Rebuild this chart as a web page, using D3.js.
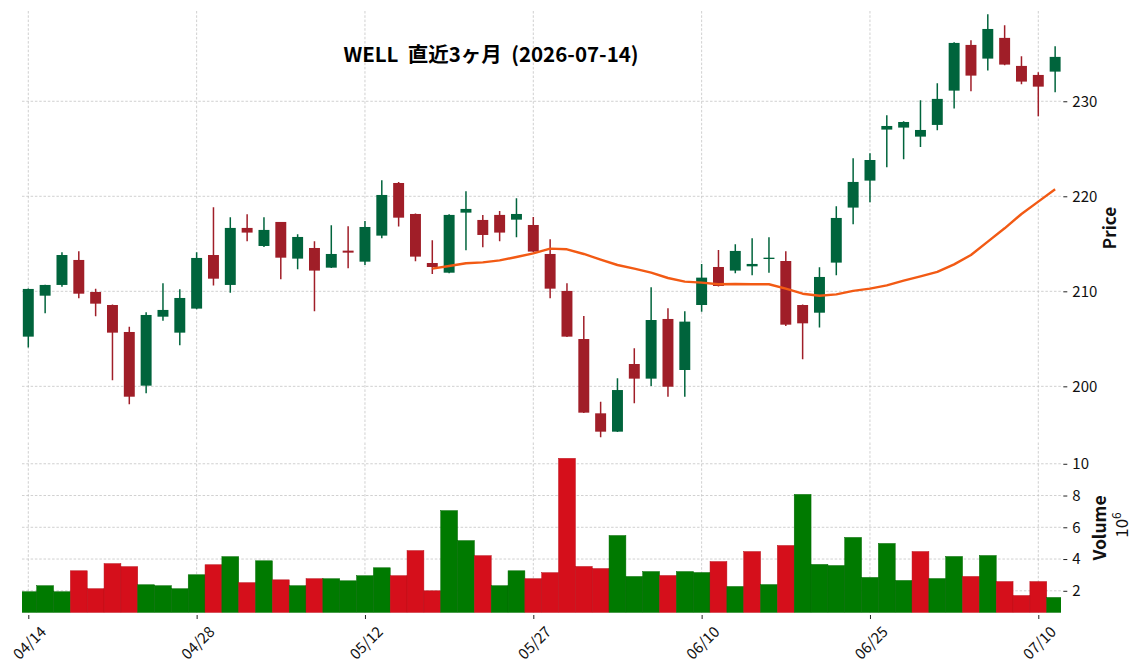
<!DOCTYPE html>
<html>
<head>
<meta charset="utf-8">
<script src="https://cdn.jsdelivr.net/npm/d3@7"></script>
<style>
  html, body { margin: 0; padding: 0; background: #fff; }
  svg { display: block; font-family: "Noto Sans CJK JP", "Noto Sans", sans-serif; }
</style>
</head>
<body>
<svg id="chart" width="1144" height="670"></svg>
<script>
const dates = ["04/14","04/15","04/16","04/17","04/20","04/21","04/22","04/23","04/24","04/27","04/28","04/29","04/30","05/01","05/04","05/05","05/06","05/07","05/08","05/11","05/12","05/13","05/14","05/15","05/18","05/19","05/20","05/21","05/22","05/26","05/27","05/28","05/29","06/01","06/02","06/03","06/04","06/05","06/08","06/09","06/10","06/11","06/12","06/15","06/16","06/17","06/18","06/22","06/23","06/24","06/25","06/26","06/29","06/30","07/01","07/02","07/06","07/07","07/08","07/09","07/10","07/13"];

const opens = [205.23,209.54,210.67,213.30,209.93,208.56,205.72,200.07,207.33,205.65,208.18,213.82,210.67,216.67,214.77,217.30,213.44,214.56,212.49,214.28,213.12,215.86,221.40,218.14,212.98,211.96,218.28,217.51,218.04,217.54,216.98,213.93,210.04,204.98,197.16,195.23,202.35,200.81,207.09,201.72,208.56,212.56,212.18,212.63,213.40,213.19,208.56,207.75,213.02,218.81,221.65,227.02,227.23,226.28,227.51,231.12,235.93,234.49,236.67,233.72,232.77,233.12];
const highs = [210.3,210.7,214.11,214.21,210.28,208.6,206.28,207.79,210.84,210.21,214.11,218.84,217.79,218.11,217.79,217.3,216.0,215.26,216.95,216.84,217.40,221.68,221.5,218.2,215.37,218.1,220.53,218.04,218.46,219.79,217.82,215.47,210.84,207.40,198.39,200.84,204.0,210.42,208.21,207.89,212.88,214.35,214.95,215.58,215.68,214.21,208.6,212.53,218.95,224.0,224.53,228.53,227.9,230.1,231.89,236.2,236.42,239.16,238.0,234.74,233.05,235.79];
const lows = [204.1,207.68,210.49,209.26,207.37,200.63,198.11,199.26,206.91,204.32,208.1,210.60,209.86,215.26,214.67,211.26,212.32,207.89,212.45,212.42,212.77,215.58,216.81,213.16,211.82,211.9,214.32,214.63,215.26,215.68,214.1,209.26,205.2,197.2,194.63,195.2,198.21,200.04,198.91,198.91,207.86,210.5,211.89,211.68,211.96,206.35,202.84,206.18,211.68,217.05,219.37,223.05,223.89,225.19,226.95,229.23,231.05,233.23,233.8,231.79,228.42,230.95];
const closes = [210.25,210.67,213.82,209.75,208.70,205.65,198.91,207.51,208.04,209.30,213.51,211.33,216.67,216.18,216.46,213.54,215.72,212.18,213.93,214.07,216.77,220.14,217.75,213.65,212.56,218.04,218.67,215.93,216.18,218.14,214.18,210.28,205.23,197.23,195.23,199.61,200.81,206.98,199.96,206.81,211.44,210.56,214.25,212.88,213.54,206.49,206.63,211.51,217.72,221.51,223.82,227.40,227.82,226.98,230.25,236.14,232.70,237.61,233.86,232.07,231.54,234.67];
// volume in millions (10^6)
const volumes = [1.94,2.32,1.94,3.26,2.13,3.71,3.52,2.38,2.32,2.13,3.01,3.64,4.15,2.51,3.89,2.69,2.32,2.76,2.76,2.63,2.95,3.45,2.95,4.53,2.0,7.05,5.16,4.21,2.32,3.26,2.76,3.14,10.34,3.53,3.40,5.48,2.90,3.21,2.96,3.21,3.15,3.84,2.27,4.47,2.39,4.85,8.07,3.66,3.59,5.36,2.84,4.98,2.65,4.47,2.77,4.16,2.90,4.22,2.58,1.70,2.58,1.58];
// 25-day moving average as drawn
const ma25 = [null,null,null,null,null,null,null,null,null,null,null,null,null,null,null,null,null,null,null,null,null,null,null,null,
  212.39,212.67,212.95,213.05,213.26,213.61,214.0,214.49,214.42,213.93,213.33,212.77,212.39,211.96,211.40,211.02,210.91,210.74,210.77,210.74,210.74,210.28,209.75,209.54,209.68,210.04,210.28,210.63,211.12,211.58,212.04,212.84,213.82,215.23,216.63,218.14,219.44,220.74];

const xTickLabels = ["04/14","04/28","05/12","05/27","06/10","06/25","07/10"];
const priceTicks = [200, 210, 220, 230];
const volumeTicks = [2, 4, 6, 8, 10];
const title = "WELL  直近3ヶ月  (2026-07-14)";

const C = {
  upCandle: "#00643c", downCandle: "#a01e28",
  upVol: "#007a00", downVol: "#d50f1b",
  ma: "#f25a14", grid: "#c4c4c4", text: "#111"
};

const svg = d3.select("#chart");
const L = 22, R = 1061;
const pTop = 11, pBot = 440.5, vTop = 442.5, vBot = 612.7;

const x = d3.scaleLinear().domain([0, 60]).range([28.3, 1038.3]);
const step = x(1) - x(0);
const yP = d3.scaleLinear().domain([194.3, 239.5]).range([pBot, pTop]);
const yV = d3.scaleLinear().domain([0.62, 11.34]).range([vBot, vTop]);

const idx = d3.range(dates.length);
const tickIdx = xTickLabels.map(t => dates.indexOf(t));

// clip paths
const defs = svg.append("defs");
defs.append("clipPath").attr("id","clipP").append("rect").attr("x",L).attr("y",pTop).attr("width",R-L).attr("height",pBot-pTop);
defs.append("clipPath").attr("id","clipV").append("rect").attr("x",L).attr("y",vTop).attr("width",R-L).attr("height",vBot-vTop);

// grids
const grid = svg.append("g").attr("stroke", C.grid).attr("stroke-width", 0.8).attr("stroke-dasharray", "2.5,1.8").attr("fill","none");
tickIdx.forEach(i => {
  grid.append("line").attr("x1", x(i)).attr("x2", x(i)).attr("y1", pTop).attr("y2", pBot);
  grid.append("line").attr("x1", x(i)).attr("x2", x(i)).attr("y1", vTop).attr("y2", vBot);
});
priceTicks.forEach(v => grid.append("line").attr("x1", L).attr("x2", R).attr("y1", yP(v)).attr("y2", yP(v)));
volumeTicks.forEach(v => grid.append("line").attr("x1", L).attr("x2", R).attr("y1", yV(v)).attr("y2", yV(v)));

// volume bars (colour by close vs previous close)
const volColor = i => (i === 0 ? closes[0] >= opens[0] : closes[i] >= closes[i-1]) ? C.upVol : C.downVol;
svg.append("g").attr("clip-path","url(#clipV)")
  .selectAll("rect").data(idx).join("rect")
  .attr("x", i => x(i) - step/2)
  .attr("width", step)
  .attr("y", i => yV(volumes[i]))
  .attr("height", i => vBot - yV(volumes[i]))
  .attr("fill", volColor)
  .attr("stroke", i => d3.color(volColor(i)).darker(0.4))
  .attr("stroke-width", 0.5);

// candles
const cg = svg.append("g").attr("clip-path","url(#clipP)");
const cColor = i => closes[i] >= opens[i] ? C.upCandle : C.downCandle;
cg.selectAll("line.wick").data(idx).join("line").attr("class","wick")
  .attr("x1", i => x(i)).attr("x2", i => x(i))
  .attr("y1", i => yP(highs[i])).attr("y2", i => yP(lows[i]))
  .attr("stroke", cColor).attr("stroke-width", 1.5);
const bw = step * 0.65;
cg.selectAll("rect.body").data(idx).join("rect").attr("class","body")
  .attr("x", i => x(i) - bw/2).attr("width", bw)
  .attr("y", i => yP(Math.max(opens[i], closes[i])))
  .attr("height", i => Math.max(1.2, Math.abs(yP(opens[i]) - yP(closes[i]))))
  .attr("fill", cColor);

// moving average
const line = d3.line().defined(d => d != null).x((d, i) => x(i)).y(d => yP(d));
cg.append("path").datum(ma25).attr("d", line)
  .attr("fill","none").attr("stroke", C.ma).attr("stroke-width", 2.4).attr("stroke-linejoin","round");

// right axes
const axP = d3.axisRight(yP).tickValues(priceTicks).tickSize(4).tickPadding(5);
const gP = svg.append("g").attr("transform", `translate(${R+2.3},0)`).call(axP);
const axV = d3.axisRight(yV).tickValues(volumeTicks).tickSize(4).tickPadding(5);
const gV = svg.append("g").attr("transform", `translate(${R+2.3},0)`).call(axV);
[gP, gV].forEach(g => {
  g.select(".domain").remove();
  g.selectAll(".tick line").attr("stroke", "#222").attr("stroke-width", 1);
  g.selectAll(".tick text").attr("font-size", 15).attr("fill", C.text).attr("font-family", "Noto Sans CJK JP");
});

// bottom axis
const axX = d3.axisBottom(x).tickValues(tickIdx).tickSize(4).tickFormat(i => dates[i]);
const gX = svg.append("g").attr("transform", `translate(0,${vBot+2.3})`).call(axX);
gX.select(".domain").remove();
gX.selectAll(".tick line").attr("stroke", "#222");
gX.selectAll(".tick text")
  .attr("font-size", 15).attr("fill", C.text).attr("font-family","Noto Sans CJK JP")
  .attr("text-anchor","middle").attr("dominant-baseline","central")
  .attr("y", 0).attr("dy", 0)
  .attr("transform", "translate(0,27) rotate(-45)");

// axis labels
svg.append("text").attr("transform", "translate(1116,228) rotate(-90)")
  .attr("text-anchor","middle").attr("font-weight","bold").attr("font-size",17).attr("fill",C.text).text("Price");
svg.append("text").attr("transform", "translate(1106,528) rotate(-90)")
  .attr("text-anchor","middle").attr("font-weight","bold").attr("font-size",17.5).attr("fill",C.text).text("Volume");
const e = svg.append("text").attr("transform", "translate(1128,525) rotate(-90)")
  .attr("text-anchor","middle").attr("font-size",17).attr("fill",C.text);
e.append("tspan").text("10");
e.append("tspan").attr("font-size",12).attr("dy",-7).text("6");

// title
svg.append("text").attr("x", 491).attr("y", 62).attr("text-anchor","middle")
  .attr("font-weight","bold").attr("font-size",20.5).attr("fill","#000")
  .attr("font-family","Noto Sans CJK JP").style("white-space","pre").text(title);
</script>
</body>
</html>
